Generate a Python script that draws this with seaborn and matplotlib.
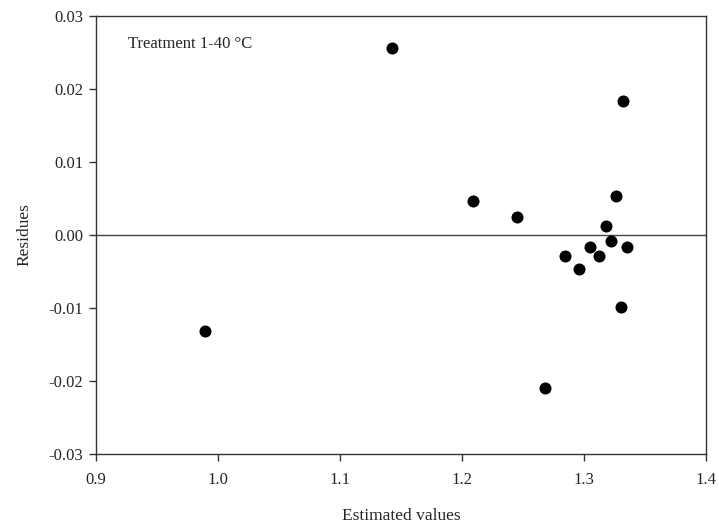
import matplotlib
matplotlib.use("Agg")
import matplotlib.pyplot as plt
import seaborn as sns
import pandas as pd

# values
estimated = [0.989, 1.143, 1.209, 1.245, 1.268, 1.284, 1.296, 1.305,
             1.312, 1.318, 1.322, 1.326, 1.330, 1.332, 1.335]
residues = [-0.0131, 0.0256, 0.0047, 0.0024, -0.0209, -0.0029, -0.0046, -0.0017,
            -0.0029, 0.0012, -0.0008, 0.0053, -0.0098, 0.0183, -0.0017]
x_ticks = [0.9, 1.0, 1.1, 1.2, 1.3, 1.4]
y_ticks = [-0.03, -0.02, -0.01, 0.00, 0.01, 0.02, 0.03]

df = pd.DataFrame({"estimated": estimated, "residues": residues})

sns.set_style("ticks")
plt.rcParams["font.family"] = ["Liberation Serif", "DejaVu Serif"]

fig = plt.figure(figsize=(7.19, 5.27), dpi=100)
ax = fig.add_axes([0.1335, 0.1385, 0.8485, 0.8311])

ax.axhline(0, color="#444444", linewidth=1.0, zorder=1)
sns.scatterplot(data=df, x="estimated", y="residues", ax=ax, s=75,
                color="black", edgecolor="black", linewidth=0, zorder=3)

ax.set_xlim(0.9, 1.4)
ax.set_ylim(-0.03, 0.03)
ax.set_xticks(x_ticks)
ax.set_yticks(y_ticks)
ax.set_xticklabels([f"{v:.1f}" for v in x_ticks])
ax.set_yticklabels([f"{v:.2f}" for v in y_ticks])
ax.tick_params(axis="both", labelsize=12, length=5, width=1.0, color="#333333")
ax.tick_params(axis="x", pad=8)
ax.tick_params(axis="y", pad=4)

for side in ["top", "right", "bottom", "left"]:
    ax.spines[side].set_visible(True)
    ax.spines[side].set_color("#333333")
    ax.spines[side].set_linewidth(1.0)

ax.set_xlabel("Estimated values", fontsize=12.5, labelpad=14)
ax.set_ylabel("Residues", fontsize=12.5, labelpad=12)
ax.text(0.053, 0.935, "Treatment 1-40 °C", transform=ax.transAxes,
        fontsize=12, va="center", ha="left")

fig.savefig("out.png", dpi=100)
